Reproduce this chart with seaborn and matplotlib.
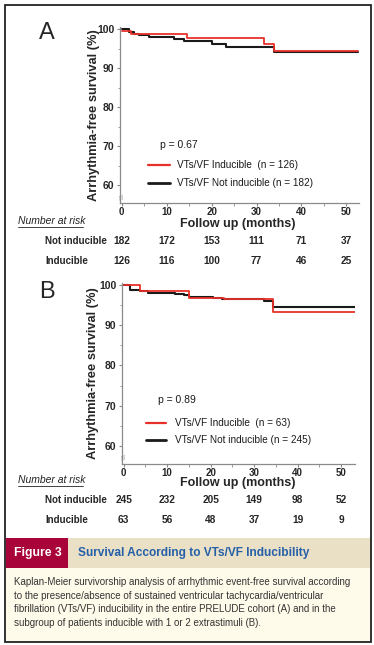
import matplotlib
matplotlib.use("Agg")
import matplotlib.pyplot as plt
import matplotlib.transforms as mtransforms
from matplotlib.patches import Rectangle
import seaborn as sns
import pandas as pd

# ---- data ----
months_ticks = [0, 10, 20, 30, 40, 50]

a_notind_t = [0, 1.7, 2.8, 3.9, 6.1, 11.7, 13.9, 20.1, 23.1, 33.8, 52.6]
a_notind_s = [100, 99.3, 98.9, 98.6, 98.1, 97.6, 97.0, 96.2, 95.5, 94.3, 94.3]
a_ind_t = [0, 2.1, 14.6, 31.6, 33.8, 52.6]
a_ind_s = [99.5, 98.9, 97.8, 96.3, 94.5, 94.5]

b_notind_t = [0, 1.4, 3.7, 5.6, 11.7, 13.8, 15.1, 20.5, 22.7, 32.3, 34.4, 53.1]
b_notind_s = [100, 98.9, 98.5, 98.2, 97.9, 97.6, 97.2, 96.8, 96.6, 96.0, 94.7, 94.7]
b_ind_t = [0, 3.7, 15.1, 23.1, 34.4, 53.1]
b_ind_s = [100, 98.5, 96.8, 96.6, 93.3, 93.3]

a_risk_notind = [182, 172, 153, 111, 71, 37]
a_risk_ind = [126, 116, 100, 77, 46, 25]
b_risk_notind = [245, 232, 205, 149, 98, 52]
b_risk_ind = [63, 56, 48, 37, 19, 9]

a_labels = ["VTs/VF Inducible  (n = 126)", "VTs/VF Not inducible (n = 182)"]
b_labels = ["VTs/VF Inducible  (n = 63)", "VTs/VF Not inducible (n = 245)"]

RED = "#e8302a"
BLACK = "#1a1a1a"
GREY = "#8a8a8a"

sns.set_style("white")
plt.rcParams["font.family"] = ["Liberation Sans", "DejaVu Sans"]

W, H = 374, 645
fig = plt.figure(figsize=(W / 100, H / 100), dpi=100)


def fx(x):
    return x / W


def fy(y):
    return 1 - y / H


def panel(left, right, top, bottom, xmax, ind_t, ind_s, not_t, not_s,
          letter, pval, labels, risk_not, risk_ind, rows_y, letter_y, leg):
    ax = fig.add_axes([fx(left), fy(bottom), fx(right - left), (bottom - top) / H])
    df_ind = pd.DataFrame({"t": ind_t, "s": ind_s})
    df_not = pd.DataFrame({"t": not_t, "s": not_s})
    sns.lineplot(data=df_not, x="t", y="s", ax=ax, color=BLACK, lw=1.5,
                 drawstyle="steps-post", sort=False, estimator=None)
    sns.lineplot(data=df_ind, x="t", y="s", ax=ax, color=RED, lw=1.3,
                 drawstyle="steps-post", sort=False, estimator=None)
    ax.set_xlim(-0.4, xmax)
    ax.set_ylim(55.4, 100.6)
    ax.set_xticks(months_ticks)
    ax.set_xticks(range(5, 55, 10), minor=True)
    ax.set_yticks([60, 70, 80, 90, 100])
    ax.set_yticks([65, 75, 85, 95], minor=True)
    ax.set_xticklabels([str(m) for m in months_ticks], fontsize=7, fontweight="bold")
    ax.set_yticklabels(["60", "70", "80", "90", "100"], fontsize=7.5, fontweight="bold")
    ax.tick_params(axis="x", which="major", length=2.5, width=0.8, color=GREY,
                   pad=0.5, direction="out", bottom=True)
    ax.tick_params(axis="y", which="major", length=2.5, width=0.8, color=GREY,
                   pad=1.5, direction="out", left=True)
    ax.tick_params(axis="both", which="minor", length=1.8, width=0.6, color=GREY,
                   direction="out", bottom=True, left=True)
    for side in ["top", "right"]:
        ax.spines[side].set_visible(False)
    for side in ["left", "bottom"]:
        ax.spines[side].set_color(GREY)
        ax.spines[side].set_linewidth(0.9)
    ax.set_xlabel("")
    ax.set_ylabel("Arrhythmia-free survival (%)", fontsize=9.3, fontweight="bold")
    ax.yaxis.set_label_coords(leg["ylab"], 0.5)
    # axis break
    ax.text(0, 56.6, "//", transform=ax.transData, rotation=20, fontsize=6,
            color=GREY, ha="center", va="center")

    x0, x1, xt = leg["line"]
    ax.text(leg["px"], leg["py"], pval, transform=ax.transAxes, fontsize=7.5,
            color=BLACK, va="center")
    ax.plot([x0, x1], [leg["y1"]] * 2, transform=ax.transAxes, color=RED, lw=1.6,
            clip_on=False)
    ax.plot([x0, x1], [leg["y2"]] * 2, transform=ax.transAxes, color=BLACK, lw=2,
            clip_on=False)
    ax.text(xt, leg["y1"], labels[0], transform=ax.transAxes, fontsize=7.2,
            va="center", color=BLACK)
    ax.text(xt, leg["y2"], labels[1], transform=ax.transAxes, fontsize=7.2,
            va="center", color=BLACK)

    fig.text(fx(47), fy(letter_y), letter, fontsize=17, ha="center", va="center")

    # number at risk table
    xlab_y, row1_y, row2_y = rows_y
    fig.text(fx(18), fy(xlab_y - 1), "Number at risk", fontsize=7.5,
             style="italic", va="center", color="#222222")
    fig.add_artist(plt.Line2D([fx(18), fx(83)], [fy(xlab_y + 4.5)] * 2,
                              color="#222222", lw=0.6))
    fig.text(fx(238), fy(xlab_y + 2), "Follow up (months)", fontsize=9,
             fontweight="bold", ha="center", va="center")
    trans = mtransforms.blended_transform_factory(ax.transData, fig.transFigure)
    fig.text(fx(45), fy(row1_y), "Not inducible", fontsize=7,
             fontweight="bold", va="center")
    fig.text(fx(45), fy(row2_y), "Inducible", fontsize=7,
             fontweight="bold", va="center")
    for m, n1, n2 in zip(months_ticks, risk_not, risk_ind):
        ax.text(m, fy(row1_y), str(n1), transform=trans, fontsize=7.3,
                fontweight="bold", ha="center", va="center")
        ax.text(m, fy(row2_y), str(n2), transform=trans, fontsize=7.3,
                fontweight="bold", ha="center", va="center")
    return ax


panel(120, 359, 27, 203, 52.8, a_ind_t, a_ind_s, a_notind_t, a_notind_s,
      "A", "p = 0.67", a_labels, a_risk_notind, a_risk_ind, (222, 241, 261), 33,
      {"ylab": -0.085, "px": 0.167, "py": 0.33, "y1": 0.216, "y2": 0.115,
       "line": (0.117, 0.209, 0.238)})
panel(122, 355, 283, 464, 53.2, b_ind_t, b_ind_s, b_notind_t, b_notind_s,
      "B", "p = 0.89", b_labels, b_risk_notind, b_risk_ind, (481, 500, 520), 292,
      {"ylab": -0.10, "px": 0.155, "py": 0.354, "y1": 0.228, "y2": 0.133,
       "line": (0.103, 0.189, 0.227)})

# caption block
fig.add_artist(Rectangle((fx(6), fy(642)), fx(365), (642 - 568) / H,
                         facecolor="#fffbea", edgecolor="none"))
fig.add_artist(Rectangle((fx(68), fy(568)), fx(303), 30 / H,
                         facecolor="#e9e0c6", edgecolor="none"))
fig.add_artist(Rectangle((fx(6), fy(568)), fx(62), 30 / H,
                         facecolor="#a8043a", edgecolor="none"))
fig.text(fx(37.5), fy(553), "Figure 3", fontsize=8.8, fontweight="bold",
         color="white", ha="center", va="center")
fig.text(fx(78), fy(553), "Survival According to VTs/VF Inducibility",
         fontsize=8.6, fontweight="bold", color="#2660a8", va="center")
caption = ("Kaplan-Meier survivorship analysis of arrhythmic event-free survival according\n"
           "to the presence/absence of sustained ventricular tachycardia/ventricular\n"
           "fibrillation (VTs/VF) inducibility in the entire PRELUDE cohort (A) and in the\n"
           "subgroup of patients inducible with 1 or 2 extrastimuli (B).")
fig.text(fx(14), fy(577), caption, fontsize=7.0, color="#333333", va="top",
         linespacing=1.45)

# outer frame
fig.add_artist(Rectangle((fx(5), fy(642)), fx(366), (642 - 5) / H,
                         facecolor="none", edgecolor="#222222", lw=1.3))

fig.savefig("out.png", dpi=100)
